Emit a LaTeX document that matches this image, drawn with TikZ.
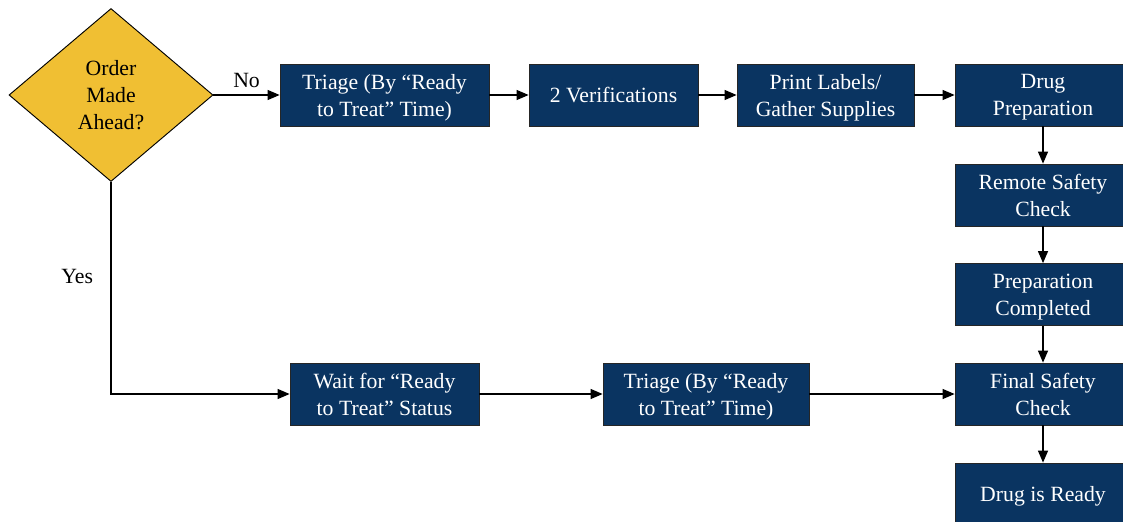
\documentclass[tikz,border=0pt]{standalone}
\usepackage{fontspec}
\setmainfont{LiberationSerif}[
  Extension=.ttf,
  UprightFont=*-Regular,
  BoldFont=*-Bold]
\usetikzlibrary{shapes.geometric,arrows.meta}

\definecolor{navy}{HTML}{0A3461}
\definecolor{gold}{HTML}{F0BF33}

\tikzset{
  stepbox/.style={rectangle, draw=black!85, line width=0.6pt, fill=navy,
    text=white, align=center, minimum height=46.5pt, inner sep=2pt, text depth=0pt,
    font=\fontsize{16.3}{20.2}\selectfont},
  question/.style={diamond, draw=black, line width=0.7pt, fill=gold,
    align=center, minimum width=153pt, minimum height=129.75pt, inner sep=0pt,
    text depth=0pt, font=\fontsize{16.3}{20.2}\selectfont},
  flow/.style={draw=black, line width=0.9pt, -{Triangle[length=9pt,width=7.5pt]}},
  tag/.style={font=\fontsize{16.3}{20.2}\selectfont}
}

\begin{document}
\begin{tikzpicture}[x=0.75pt, y=-0.75pt]
  \useasboundingbox (0,0) rectangle (1123,521);

  % Decision
  \node[question] (order) at (111,95) {Order\\Made\\Ahead?};

  % Top row
  \node[stepbox, minimum width=156.75pt] (triageA) at (384.5,95) {Triage (By ``Ready\\to Treat'' Time)};
  \node[stepbox, minimum width=126.75pt] (verif) at (613.5,95) {2 Verifications};
  \node[stepbox, minimum width=132.75pt] (labels) at (825.5,95) {Print Labels/\\Gather Supplies};

  % Right column
  \node[stepbox, minimum width=132pt] (prep) at (1043,95) {Drug\\Preparation};
  \node[stepbox, minimum width=132pt] (remote) at (1043,195) {Remote Safety\\Check};
  \node[stepbox, minimum width=132pt] (done) at (1043,294.5) {Preparation\\Completed};
  \node[stepbox, minimum width=132pt] (final) at (1043,394) {Final Safety\\Check};
  \node[stepbox, minimum width=132pt] (ready) at (1043,494) {Drug is Ready};

  % Bottom row
  \node[stepbox, minimum width=141.75pt] (wait) at (384.5,394) {Wait for ``Ready\\to Treat'' Status};
  \node[stepbox, minimum width=154.5pt] (triageB) at (706,394) {Triage (By ``Ready\\to Treat'' Time)};

  % No branch
  \draw[flow] (order.east) -- (triageA.west) node[midway, above=1.5pt, tag] {No};
  \draw[flow] (triageA) -- (verif);
  \draw[flow] (verif) -- (labels);
  \draw[flow] (labels) -- (prep);
  \draw[flow] (prep) -- (remote);
  \draw[flow] (remote) -- (done);
  \draw[flow] (done) -- (final);
  \draw[flow] (final) -- (ready);

  % Yes branch
  \draw[flow] (order.south) |- (wait.west) node[pos=0.222, left=9.75pt, tag] {Yes};
  \draw[flow] (wait) -- (triageB);
  \draw[flow] (triageB) -- (final);
\end{tikzpicture}
\end{document}
